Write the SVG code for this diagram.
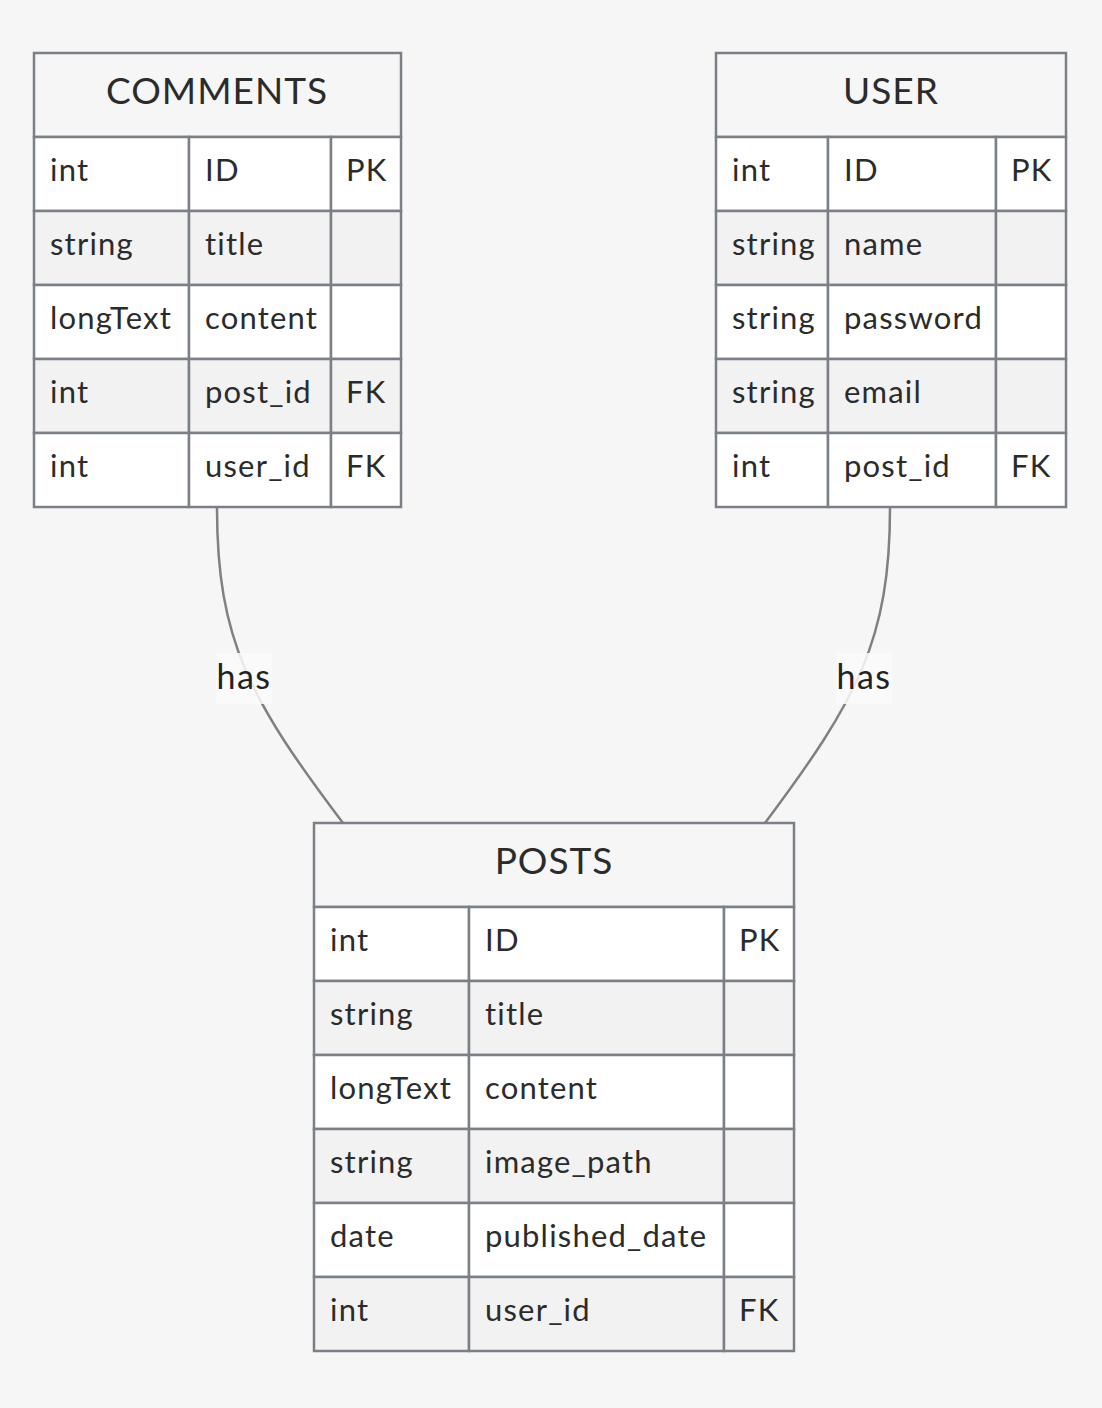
<svg xmlns="http://www.w3.org/2000/svg" width="1102" height="1408" viewBox="0 0 1102 1408">
<style>
.bg{fill:#f6f6f6}
.hd{fill:#f6f6f6;stroke:#7b8086;stroke-width:2.5}
.ro{fill:#ffffff;stroke:#7b8086;stroke-width:2.5}
.re{fill:#f2f2f2;stroke:#7b8086;stroke-width:2.5}
.t{font-family:Lato,"Noto Sans",sans-serif;fill:#2b2b2b}
.title{font-size:37px;text-anchor:middle;letter-spacing:1px}
.c{font-size:31px;letter-spacing:1.2px}
.edge{fill:none;stroke:#808080;stroke-width:2.5}
.lb{fill:#fafafa;fill-opacity:0.85}
.lt{font-family:Lato,"Noto Sans",sans-serif;font-size:34px;fill:#222;text-anchor:middle;letter-spacing:1.5px}
</style>
<rect class="bg" x="0" y="0" width="1102" height="1408"/>
<g id="connectors">
<path class="edge" d="M217,508 C217,640 250,700 343,823"/>
<path class="edge" d="M890,508 C890,640 857,700 765,823"/>
<rect class="lb" x="216" y="653" width="56" height="51"/>
<text class="lt" x="244" y="689">has</text>
<rect class="lb" x="836" y="653" width="56" height="51"/>
<text class="lt" x="864" y="689">has</text>
</g>
<g id="comments">
<rect class="hd" x="34" y="53" width="367" height="84"/>
<text class="t title" x="217" y="104">COMMENTS</text>
<rect class="ro" x="34" y="137" width="155" height="74"/><rect class="ro" x="189" y="137" width="142" height="74"/><rect class="ro" x="331" y="137" width="70" height="74"/>
<rect class="re" x="34" y="211" width="155" height="74"/><rect class="re" x="189" y="211" width="142" height="74"/><rect class="re" x="331" y="211" width="70" height="74"/>
<rect class="ro" x="34" y="285" width="155" height="74"/><rect class="ro" x="189" y="285" width="142" height="74"/><rect class="ro" x="331" y="285" width="70" height="74"/>
<rect class="re" x="34" y="359" width="155" height="74"/><rect class="re" x="189" y="359" width="142" height="74"/><rect class="re" x="331" y="359" width="70" height="74"/>
<rect class="ro" x="34" y="433" width="155" height="74"/><rect class="ro" x="189" y="433" width="142" height="74"/><rect class="ro" x="331" y="433" width="70" height="74"/>
<text class="t c" x="50" y="181">int</text><text class="t c" x="205" y="181">ID</text><text class="t c" x="346" y="181">PK</text>
<text class="t c" x="50" y="255">string</text><text class="t c" x="205" y="255">title</text>
<text class="t c" x="50" y="329">longText</text><text class="t c" x="205" y="329">content</text>
<text class="t c" x="50" y="403">int</text><text class="t c" x="205" y="403">post_id</text><text class="t c" x="346" y="403">FK</text>
<text class="t c" x="50" y="477">int</text><text class="t c" x="205" y="477">user_id</text><text class="t c" x="346" y="477">FK</text>
</g>
<g id="user">
<rect class="hd" x="716" y="53" width="350" height="84"/>
<text class="t title" x="891" y="104">USER</text>
<rect class="ro" x="716" y="137" width="112" height="74"/><rect class="ro" x="828" y="137" width="168" height="74"/><rect class="ro" x="996" y="137" width="70" height="74"/>
<rect class="re" x="716" y="211" width="112" height="74"/><rect class="re" x="828" y="211" width="168" height="74"/><rect class="re" x="996" y="211" width="70" height="74"/>
<rect class="ro" x="716" y="285" width="112" height="74"/><rect class="ro" x="828" y="285" width="168" height="74"/><rect class="ro" x="996" y="285" width="70" height="74"/>
<rect class="re" x="716" y="359" width="112" height="74"/><rect class="re" x="828" y="359" width="168" height="74"/><rect class="re" x="996" y="359" width="70" height="74"/>
<rect class="ro" x="716" y="433" width="112" height="74"/><rect class="ro" x="828" y="433" width="168" height="74"/><rect class="ro" x="996" y="433" width="70" height="74"/>
<text class="t c" x="732" y="181">int</text><text class="t c" x="844" y="181">ID</text><text class="t c" x="1011" y="181">PK</text>
<text class="t c" x="732" y="255">string</text><text class="t c" x="844" y="255">name</text>
<text class="t c" x="732" y="329">string</text><text class="t c" x="844" y="329">password</text>
<text class="t c" x="732" y="403">string</text><text class="t c" x="844" y="403">email</text>
<text class="t c" x="732" y="477">int</text><text class="t c" x="844" y="477">post_id</text><text class="t c" x="1011" y="477">FK</text>
</g>
<g id="posts">
<rect class="hd" x="314" y="823" width="480" height="84"/>
<text class="t title" x="554" y="874">POSTS</text>
<rect class="ro" x="314" y="907" width="155" height="74"/><rect class="ro" x="469" y="907" width="255" height="74"/><rect class="ro" x="724" y="907" width="70" height="74"/>
<rect class="re" x="314" y="981" width="155" height="74"/><rect class="re" x="469" y="981" width="255" height="74"/><rect class="re" x="724" y="981" width="70" height="74"/>
<rect class="ro" x="314" y="1055" width="155" height="74"/><rect class="ro" x="469" y="1055" width="255" height="74"/><rect class="ro" x="724" y="1055" width="70" height="74"/>
<rect class="re" x="314" y="1129" width="155" height="74"/><rect class="re" x="469" y="1129" width="255" height="74"/><rect class="re" x="724" y="1129" width="70" height="74"/>
<rect class="ro" x="314" y="1203" width="155" height="74"/><rect class="ro" x="469" y="1203" width="255" height="74"/><rect class="ro" x="724" y="1203" width="70" height="74"/>
<rect class="re" x="314" y="1277" width="155" height="74"/><rect class="re" x="469" y="1277" width="255" height="74"/><rect class="re" x="724" y="1277" width="70" height="74"/>
<text class="t c" x="330" y="951">int</text><text class="t c" x="485" y="951">ID</text><text class="t c" x="739" y="951">PK</text>
<text class="t c" x="330" y="1025">string</text><text class="t c" x="485" y="1025">title</text>
<text class="t c" x="330" y="1099">longText</text><text class="t c" x="485" y="1099">content</text>
<text class="t c" x="330" y="1173">string</text><text class="t c" x="485" y="1173">image_path</text>
<text class="t c" x="330" y="1247">date</text><text class="t c" x="485" y="1247">published_date</text>
<text class="t c" x="330" y="1321">int</text><text class="t c" x="485" y="1321">user_id</text><text class="t c" x="739" y="1321">FK</text>
</g>
</svg>
